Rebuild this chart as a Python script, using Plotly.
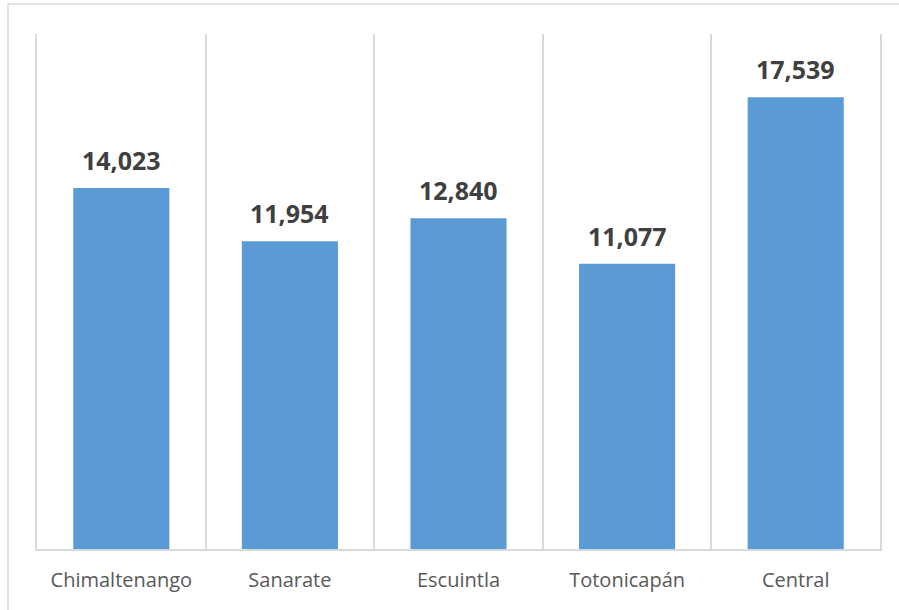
import plotly.graph_objects as go

categorias = ["Chimaltenango", "Sanarate", "Escuintla", "Totonicapán", "Central"]
valores = [14023, 11954, 12840, 11077, 17539]
etiquetas = [f"{v:,}" for v in valores]

fig = go.Figure()
fig.add_trace(go.Bar(
    x=categorias,
    y=valores,
    marker=dict(color="#5B9BD5", line=dict(width=0)),
    width=0.57,
    hoverinfo="x+y",
))

# etiquetas de valor encima de cada barra
for cat, val, txt in zip(categorias, valores, etiquetas):
    fig.add_annotation(
        x=cat, y=val, text=f"<b>{txt}</b>", showarrow=False,
        yanchor="bottom", yshift=9,
        font=dict(size=25, color="#404040", family="Open Sans"),
    )

fig.update_layout(
    width=899, height=610,
    margin=dict(l=37, r=19, t=34, b=61),
    plot_bgcolor="white", paper_bgcolor="white",
    showlegend=False,
    shapes=[dict(type="rect", xref="paper", yref="paper",
                 x0=(8 - 37) / 843, x1=1.1, y0=-0.2, y1=(549 - 4) / 515,
                 line=dict(color="#D9D9D9", width=1.5), layer="below")],
)
fig.update_xaxes(
    type="category", tickson="boundaries", showgrid=True,
    gridcolor="#D9D9D9", gridwidth=1.5,
    showline=True, linecolor="#D9D9D9", linewidth=1.5,
    ticks="", ticklen=0, ticklabelstandoff=12,
    tickfont=dict(size=20, color="#595959", family="Open Sans"),
)
fig.update_yaxes(
    range=[0, 20000], showgrid=False, showticklabels=False,
    zeroline=False, showline=True, mirror=True,
    linecolor="#D9D9D9", linewidth=1.5,
)

fig.write_html("out.html", config={"displayModeBar": False},
               post_script="document.body.style.margin='0';")
